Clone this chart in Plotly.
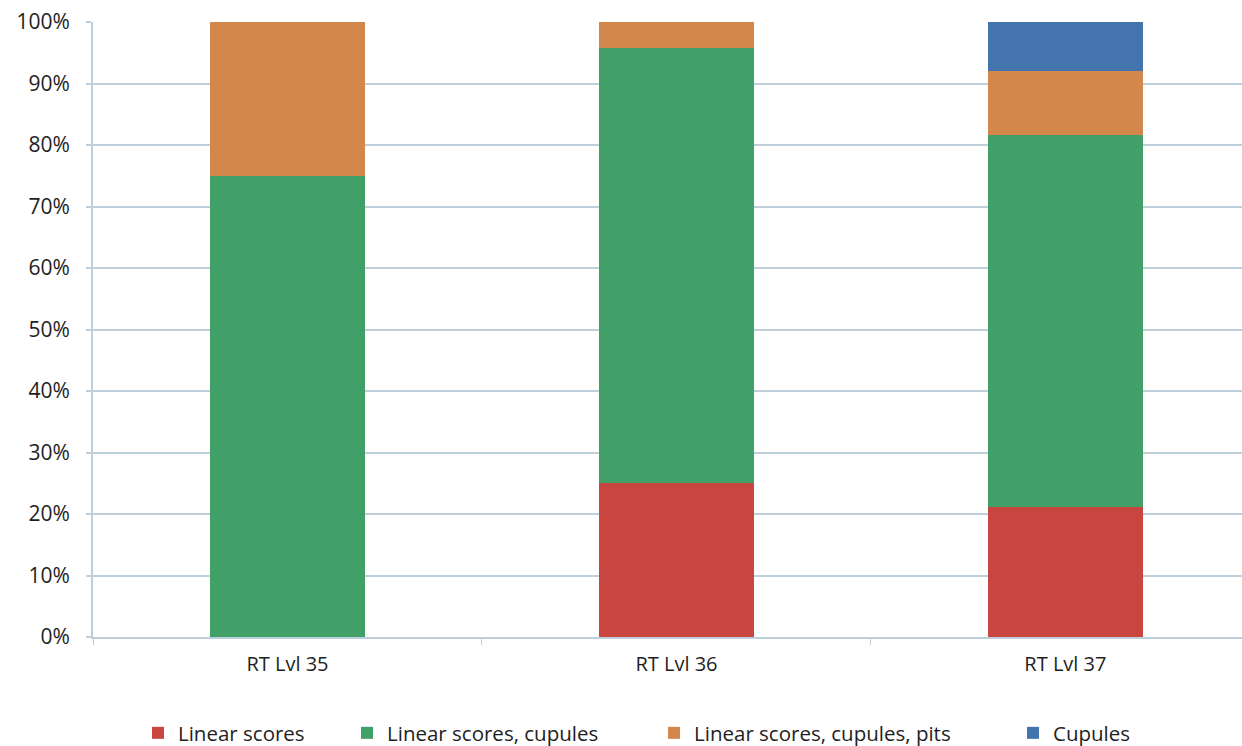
import plotly.graph_objects as go

# Sample groups on the x axis
categories = ["RT Lvl 35", "RT Lvl 36", "RT Lvl 37"]

# Share of each trace type per group (percent)
linear_scores = [0, 25.0, 21.1]
linear_scores_cupules = [75.0, 70.8, 60.5]
linear_scores_cupules_pits = [25.0, 4.2, 10.5]
cupules = [0, 0, 7.9]

series_names = ["Linear scores", "Linear scores, cupules",
                "Linear scores, cupules, pits", "Cupules"]
series_values = [linear_scores, linear_scores_cupules,
                 linear_scores_cupules_pits, cupules]
series_colors = ["#C9453F", "#41A068", "#D4874A", "#4374AE"]
legend_ids = ["legend", "legend2", "legend3", "legend4"]
legend_x = [0.1111, 0.2794, 0.5266, 0.8156]

FONT = "Open Sans"
GRID = "#BCCFDB"
TEXT = "#1E1E1E"

fig = go.Figure()
for name, vals, color, lid in zip(series_names, series_values, series_colors, legend_ids):
    fig.add_trace(go.Bar(
        x=categories, y=vals, name=name,
        marker=dict(color=color, line=dict(width=0)),
        width=0.4, legend=lid,
    ))

legend_common = dict(
    orientation="h", xref="container", yref="container",
    y=0.0174, yanchor="middle", xanchor="left",
    font=dict(family=FONT, size=20.5, color=TEXT),
    bgcolor="rgba(0,0,0,0)",
)
layout_legends = {}
for lid, lx in zip(legend_ids, legend_x):
    layout_legends[lid] = dict(legend_common, x=lx)

fig.update_layout(
    barmode="stack",
    width=1242, height=746,
    margin=dict(l=93, r=0, t=22, b=109, autoexpand=False),
    paper_bgcolor="white", plot_bgcolor="white",
    showlegend=True,
    **layout_legends,
)

fig.update_xaxes(
    range=[-0.5, 2.454],
    showgrid=False,
    showline=True, linecolor=GRID, linewidth=2,
    ticks="outside", tickson="boundaries", ticklen=6, tickcolor=GRID,
    ticklabelstandoff=8,
    tickfont=dict(family=FONT, size=20, color=TEXT),
)
fig.update_yaxes(
    range=[0, 100], dtick=10, ticksuffix="%",
    showgrid=True, gridcolor=GRID, gridwidth=2,
    showline=True, linecolor=GRID, linewidth=2,
    ticks="outside", ticklen=5, tickcolor=GRID, tickwidth=2,
    ticklabelstandoff=12,
    zeroline=False,
    tickfont=dict(family=FONT, size=21, color=TEXT),
)

fig.write_html("out.html")
